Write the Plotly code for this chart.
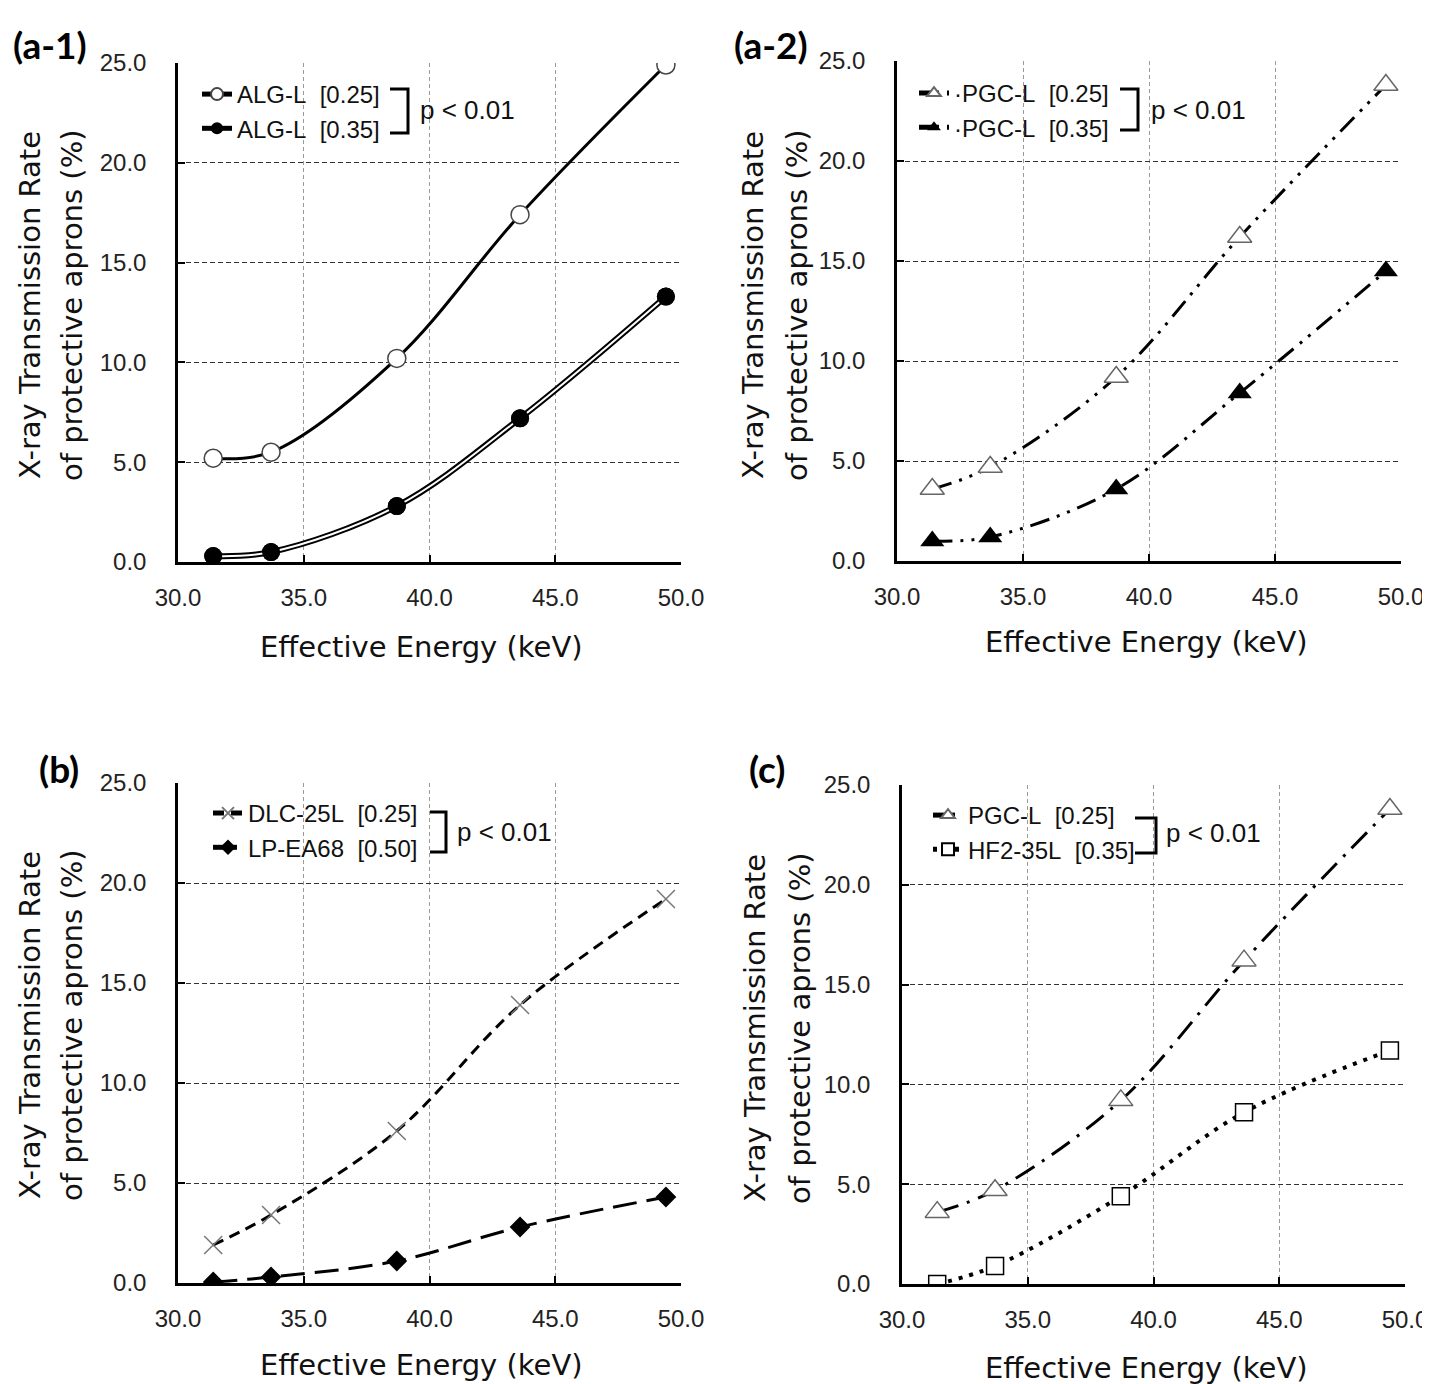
import plotly.graph_objects as go

# The page body has an 8px margin; the figure is sized to fill the rest of
# the 1430x1384 window and positions below are given in window pixels.
OFF = 8
W, H = 1430 - OFF, 1384 - OFF

# ---------------- data ----------------
energy = [31.4, 33.7, 38.7, 43.6, 49.4]          # effective energy (keV)
alg_l_025 = [5.2, 5.5, 10.2, 17.4, 24.9]
alg_l_035 = [0.3, 0.5, 2.8, 7.2, 13.3]
pgc_l_025 = [3.6, 4.7, 9.2, 16.2, 23.8]
pgc_l_035 = [1.0, 1.2, 3.6, 8.4, 14.5]
dlc_25l_025 = [1.9, 3.4, 7.6, 13.9, 19.2]
lp_ea68_050 = [0.05, 0.3, 1.1, 2.8, 4.3]
hf2_35l_035 = [0.0, 0.9, 4.4, 8.6, 11.7]

x_ticks = [30, 35, 40, 45, 50]
y_ticks = [0, 5, 10, 15, 20, 25]

panel_labels = ["(a-1)", "(a-2)", "(b)", "(c)"]
y_title_1 = "X-ray Transmission Rate"
y_title_2 = "of protective aprons (%)"
x_title = "Effective Energy (keV)"
p_text = "p < 0.01"

# --------------- helpers ---------------
def PX(x):
    return (x - OFF) / W

def PY(y):
    return 1 - (y - OFF) / H

SANS = "Liberation Sans, Arial"
TITLEF = "DejaVu Sans"

fig = go.Figure()

# ---------- panel a-1 ----------
fig.add_trace(go.Scatter(
    x=energy, y=alg_l_025, mode="lines+markers", name="ALG-L\u00a0 [0.25]",
    line=dict(color="black", width=3, shape="spline"),
    marker=dict(symbol="circle", size=18, color="white", line=dict(color="#444", width=1.5)),
    xaxis="x", yaxis="y", legend="legend"))
fig.add_trace(go.Scatter(
    x=energy, y=alg_l_035, mode="lines+markers", name="ALG-L\u00a0 [0.35]",
    line=dict(color="black", width=6, shape="spline"),
    marker=dict(symbol="circle", size=18, color="black"),
    xaxis="x", yaxis="y", legend="legend"))
fig.add_trace(go.Scatter(
    x=energy, y=alg_l_035, mode="lines", showlegend=False,
    line=dict(color="white", width=2, shape="spline"),
    xaxis="x", yaxis="y", hoverinfo="skip"))
fig.add_trace(go.Scatter(
    x=energy, y=alg_l_035, mode="markers", showlegend=False,
    marker=dict(symbol="circle", size=18, color="black"),
    xaxis="x", yaxis="y"))

# ---------- panel a-2 ----------
dashdotdot = "20px,8px,3px,8px,3px,8px"
fig.add_trace(go.Scatter(
    x=energy, y=pgc_l_025, mode="lines+markers", name="\u00b7PGC-L\u00a0 [0.25]",
    line=dict(color="black", width=3, shape="spline", dash=dashdotdot),
    marker=dict(symbol="triangle-up", size=21, color="white", line=dict(color="#666", width=1.5)),
    xaxis="x2", yaxis="y2", legend="legend2"))
fig.add_trace(go.Scatter(
    x=energy, y=pgc_l_035, mode="lines+markers", name="\u00b7PGC-L\u00a0 [0.35]",
    line=dict(color="black", width=3, shape="spline", dash=dashdotdot),
    marker=dict(symbol="triangle-up", size=21, color="black"),
    xaxis="x2", yaxis="y2", legend="legend2"))

# ---------- panel b ----------
fig.add_trace(go.Scatter(
    x=energy, y=dlc_25l_025, mode="lines+markers", name="DLC-25L\u00a0 [0.25]",
    line=dict(color="black", width=3, shape="spline", dash="11px,7px"),
    marker=dict(symbol="x-thin-open", size=18, color="#777", line=dict(color="#777", width=1.5)),
    xaxis="x3", yaxis="y3", legend="legend3"))
fig.add_trace(go.Scatter(
    x=energy, y=lp_ea68_050, mode="lines+markers", name="LP-EA68\u00a0 [0.50]",
    line=dict(color="black", width=3, shape="spline", dash="24px,10px"),
    marker=dict(symbol="diamond", size=16, color="black"),
    xaxis="x3", yaxis="y3", legend="legend3"))

# ---------- panel c ----------
fig.add_trace(go.Scatter(
    x=energy, y=pgc_l_025, mode="lines+markers", name="PGC-L\u00a0 [0.25]",
    line=dict(color="black", width=3, shape="spline", dash="22px,9px,3px,9px"),
    marker=dict(symbol="triangle-up", size=21, color="white", line=dict(color="#666", width=1.5)),
    xaxis="x4", yaxis="y4", legend="legend4"))
fig.add_trace(go.Scatter(
    x=energy, y=hf2_35l_035, mode="lines+markers", name="HF2-35L\u00a0 [0.35]",
    line=dict(color="black", width=4, shape="spline", dash="4px,7px"),
    marker=dict(symbol="square", size=17, color="white", line=dict(color="black", width=1.5)),
    xaxis="x4", yaxis="y4", legend="legend4"))

# --------------- axes ---------------
domains = {
    "1": ((178, 681), (63, 562)),
    "2": ((897, 1401), (61, 561)),
    "3": ((178, 681), (783, 1283)),
    "4": ((902, 1405), (785, 1284)),
}

layout = dict(
    width=W, height=H, margin=dict(l=0, r=0, t=0, b=0, autoexpand=False),
    paper_bgcolor="white", plot_bgcolor="white", showlegend=True,
)
for k, ((x0, x1), (y0, y1)) in domains.items():
    xs = "" if k == "1" else k
    layout["xaxis" + xs] = dict(
        domain=[PX(x0), PX(x1)], range=[30, 50], tickvals=x_ticks, tickformat=".1f",
        anchor="y" + xs, showline=True, linecolor="black", linewidth=2.5,
        ticks="inside", ticklen=7, tickwidth=2, tickcolor="black",
        showgrid=True, gridcolor="#9a9a9a", gridwidth=1, griddash="4px,3px",
        zeroline=False, ticklabelstandoff=12, automargin=False,
        tickfont=dict(family=SANS, size=24, color="#222"),
        fixedrange=True,
    )
    layout["yaxis" + xs] = dict(
        domain=[PY(y1), PY(y0)], range=[0, 25], tickvals=y_ticks, tickformat=".1f",
        anchor="x" + xs, showline=True, linecolor="black", linewidth=2.5,
        ticks="inside", ticklen=7, tickwidth=2, tickcolor="black",
        showgrid=True, gridcolor="#333", gridwidth=1, griddash="5px,3px",
        zeroline=False, ticklabelstandoff=24, automargin=False,
        tickfont=dict(family=SANS, size=24, color="#222"),
        fixedrange=True,
    )

leg_font = dict(family=SANS, size=24, color="#111")
leg_common = dict(xanchor="left", yanchor="top", bgcolor="rgba(0,0,0,0)",
                  font=leg_font, itemsizing="constant", tracegroupgap=0,
                  itemwidth=30)
layout["legend"] = dict(x=PX(197), y=PY(72), **leg_common)
layout["legend2"] = dict(x=PX(914), y=PY(71), **leg_common)
layout["legend3"] = dict(x=PX(208), y=PY(791), **leg_common)
layout["legend4"] = dict(x=PX(928), y=PY(793), **leg_common)

fig.update_layout(**layout)

# --------------- brackets and p-values ---------------
brackets = [
    # x_left, x_right, y_top, y_bottom, p_x, p_y
    (390, 408, 89, 133, 418, 110),
    (1120, 1138, 89, 130, 1149, 110),
    (430, 446, 812, 852, 455, 832),
    (1135, 1156, 818, 853, 1164, 833),
]
for xl, xr, yt, yb, ppx, ppy in brackets:
    path = (f"M {PX(xl)},{PY(yt)} L {PX(xr)},{PY(yt)} "
            f"L {PX(xr)},{PY(yb)} L {PX(xl)},{PY(yb)}")
    fig.add_shape(type="path", path=path, xref="paper", yref="paper",
                  line=dict(color="black", width=3))
    fig.add_annotation(x=PX(ppx), y=PY(ppy), xref="paper", yref="paper",
                       text=p_text, showarrow=False, xanchor="left", yanchor="middle",
                       font=dict(family=SANS, size=26, color="#111"))

# --------------- titles ---------------
ytitle_pos = [(30, 72, 305), (753, 797, 305), (30, 72, 1025), (755, 800, 1028)]
for l1x, l2x, cy in ytitle_pos:
    fig.add_annotation(x=PX(l1x), y=PY(cy), xref="paper", yref="paper", text=y_title_1,
                       textangle=-90, showarrow=False, xanchor="center", yanchor="middle",
                       font=dict(family=TITLEF, size=29, color="#111"))
    fig.add_annotation(x=PX(l2x), y=PY(cy), xref="paper", yref="paper", text=y_title_2,
                       textangle=-90, showarrow=False, xanchor="center", yanchor="middle",
                       font=dict(family=TITLEF, size=29, color="#111"))

xtitle_pos = [(421, 647), (1146, 642), (421, 1365), (1146, 1368)]
for cx, cy in xtitle_pos:
    fig.add_annotation(x=PX(cx), y=PY(cy), xref="paper", yref="paper", text=x_title,
                       showarrow=False, xanchor="center", yanchor="middle",
                       font=dict(family=TITLEF, size=29, color="#111"))

label_pos = [(50, 45), (771, 45), (59, 768), (767, 768)]
for lab, (cx, cy) in zip(panel_labels, label_pos):
    fig.add_annotation(x=PX(cx), y=PY(cy), xref="paper", yref="paper",
                       text=f"<b>{lab}</b>", showarrow=False, xanchor="center",
                       yanchor="middle", font=dict(family="Lato", size=37, color="black"))

fig.write_html("out.html")
